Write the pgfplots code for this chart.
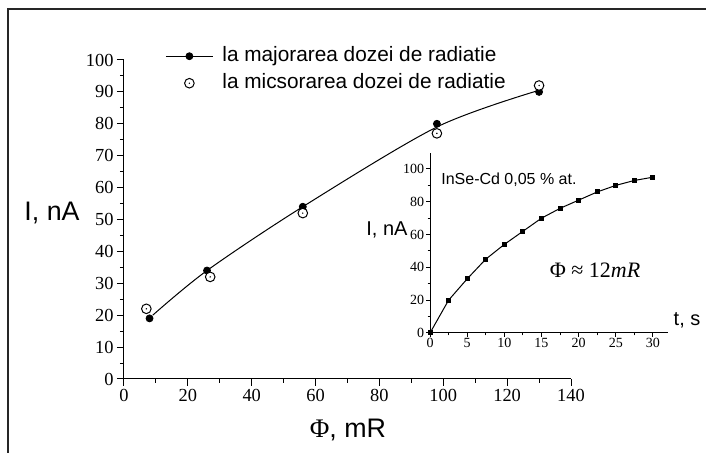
\documentclass[border=0pt]{standalone}
\usepackage{fontspec}
\setmainfont{Liberation Sans}
\newfontfamily\serif{Liberation Serif}
\usepackage{pgfplots}
\pgfplotsset{compat=1.18}
\pgfdeclareplotmark{odot}{%
  \pgfsetfillcolor{white}%
  \pgfpathcircle{\pgfpointorigin}{\pgfplotmarksize}\pgfusepathqfillstroke
  \pgfsetfillcolor{black}%
  \pgfpathcircle{\pgfpointorigin}{0.4pt}\pgfusepathqfill}
\pgfplotsset{
  legfill/.style={legend image code/.code={\draw[black, line width=0.5pt] (0pt,0pt) -- (23.5pt,0pt);
    \path[##1] plot coordinates {(11.75pt,0pt)};}},
  legopen/.style={legend image code/.code={\path[##1] plot coordinates {(11.75pt,0pt)};}},
}
\begin{document}
\begin{tikzpicture}
\useasboundingbox (0pt,0pt) rectangle (353pt,226.5pt);
\draw[black!85, line width=0.6pt] (353pt,222pt) -- (4pt,222pt) -- (4pt,0pt);
\begin{axis}[
  at={(62pt,37pt)}, anchor=south west, scale only axis,
  width=223.5pt, height=159.5pt,
  xmin=0, xmax=140, ymin=0, ymax=100,
  axis lines=left, axis line style={-, line width=0.5pt},
  tick align=outside, tick style={black, line width=0.5pt},
  major tick length=3.5pt, minor tick length=2pt,
  xtick={0,20,...,140}, ytick={0,10,...,100},
  minor x tick num=1, minor y tick num=1,
  /pgf/number format/assume math mode=true,
  tick label style={font=\serif\fontsize{9.2}{10}\selectfont},
  xticklabel style={inner sep=1.5pt},
  yticklabel style={inner sep=1.5pt},
  every axis y label/.style={at={(axis description cs:-0.161,0.52)}, anchor=center, font=\fontsize{13.4}{15}\selectfont},
  every axis x label/.style={at={(axis description cs:0.501,-0.160)}, anchor=center, font=\fontsize{13.4}{15}\selectfont},
  ylabel={I, nA}, xlabel={{\serif Φ}, mR},
  clip=false,
  legend style={draw=none, fill=none, at={(axis description cs:0.0917,1.046)}, anchor=north west,
    font=\fontsize{10.4}{12}\selectfont, inner sep=0pt, row sep=3pt, column sep=4.5pt,
    nodes={inner sep=0pt, text height=8pt, text depth=2.5pt}},
  legend cell align=left,
]
\addplot[black, line width=0.5pt, smooth, forget plot] coordinates {
  (9,20) (26,34) (56,54) (98,79) (130,90.5)};
\addplot[black, only marks, mark=*, mark size=1.75pt, legfill] coordinates {
  (8,19) (26,34) (56,54) (98,80) (130,90)};
\addlegendentry{la majorarea dozei de radiatie}
\addplot[black, only marks, mark=odot, mark size=2.4pt, mark options={line width=0.5pt}, legopen] coordinates {
  (7,22) (27,32) (56,52) (98,77) (130,92)};
\addlegendentry{la micsorarea dozei de radiatie}
\end{axis}
\begin{axis}[
  at={(215pt,60pt)}, anchor=south west, scale only axis,
  width=118.9pt, height=90.2pt,
  xmin=0, xmax=32, ymin=0, ymax=110,
  axis lines=left, axis line style={-, line width=0.5pt},
  tick align=outside, tick style={black, line width=0.5pt},
  major tick length=2pt, minor tick length=1.2pt,
  xtick={0,5,...,30}, ytick={0,20,...,100},
  minor x tick num=1, minor y tick num=1,
  /pgf/number format/assume math mode=true,
  tick label style={font=\serif\fontsize{7}{8}\selectfont},
  xticklabel style={inner sep=0.5pt},
  yticklabel style={inner sep=0.8pt},
  every axis y label/.style={at={(axis description cs:-0.181,0.571)}, anchor=center, font=\fontsize{10}{12}\selectfont},
  every axis x label/.style={at={(axis description cs:1.081,0.072)}, anchor=center, font=\fontsize{10}{12}\selectfont},
  ylabel={I, nA}, xlabel={t, s},
  clip=false,
]
\addplot[black, line width=0.5pt, mark=square*, mark size=1pt] coordinates {
  (0,0) (2.5,20) (5,33) (7.5,45) (10,54) (12.5,62) (15,70) (17.5,76)
  (20,81) (22.5,86) (25,90) (27.5,93) (30,95)};
\node[font=\fontsize{8}{9}\selectfont, inner sep=0pt] at (axis description cs:0.332,0.848) {InSe-Cd 0,05 \% at.};
\node[font=\serif\fontsize{11}{12}\selectfont, inner sep=0pt] at (axis description cs:0.694,0.349) {Φ ≈ 12\textit{mR}};
\end{axis}
\end{tikzpicture}
\end{document}
